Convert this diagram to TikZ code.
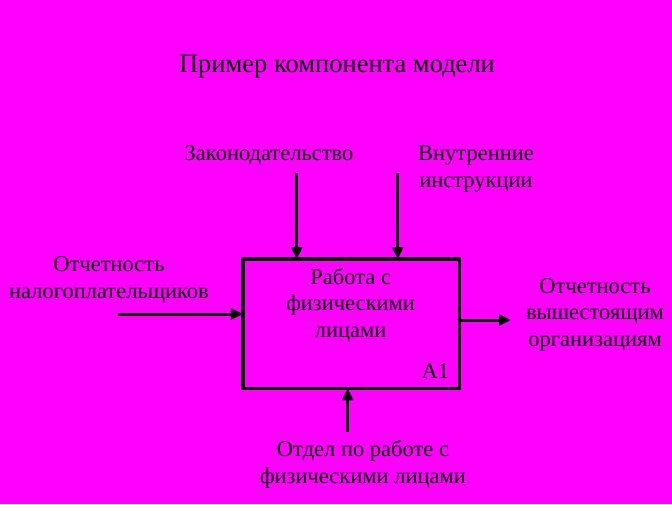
\documentclass[tikz,border=0pt]{standalone}
\usepackage{fontspec}
\setmainfont{Liberation Serif}
\usetikzlibrary{arrows.meta}
\definecolor{bgmag}{RGB}{255,0,255}
\begin{document}
\begin{tikzpicture}[x=1pt,y=-1pt,
  every node/.style={inner sep=0pt,outer sep=0pt},
  lbl/.style={font=\fontsize{22.5}{26.3}\selectfont,align=center,anchor=base},
  ttl/.style={font=\fontsize{26.5}{30}\selectfont,anchor=base},
  flow/.style={line width=3pt,-{Triangle[length=12pt,width=11pt]}},
  actbox/.style={draw,line width=3.5pt,minimum width=216.7pt,minimum height=129.3pt}]
\fill[bgmag] (0,0) rectangle (672,504);
\useasboundingbox (0,0) rectangle (672,504);
\node[ttl] (title) at (337,72) {Пример компонента модели};
\node[actbox] (box) at (351.3,323.7) {};
\node[lbl] (boxtxt) at (350.7,337) {Работа с\\физическими\\лицами};
\node[lbl,anchor=base east] (a1) at (449,378) {A1};
\node[lbl] (ctrl1) at (269,160) {Законодательство};
\node[lbl] (ctrl2) at (476,187) {Внутренние\\инструкции};
\node[lbl] (inp) at (109,298) {Отчетность\\налогоплательщиков};
\node[lbl] (out) at (595,346) {Отчетность\\вышестоящим\\организациям};
\node[lbl] (mech) at (363,483) {Отдел по работе с\\физическими лицами};
\coordinate (c1s) at (296.7,173);
\coordinate (c2s) at (397.7,173);
\coordinate (is) at (118,314);
\coordinate (oe) at (511,320);
\coordinate (ms) at (347.7,432);
\draw[flow] (c1s) -- (c1s |- box.north);
\draw[flow] (c2s) -- (c2s |- box.north);
\draw[flow] (is) -- (is -| box.west);
\draw[flow] (oe -| box.east) -- (oe);
\draw[flow] (ms) -- (ms |- box.south);
\end{tikzpicture}
\end{document}
